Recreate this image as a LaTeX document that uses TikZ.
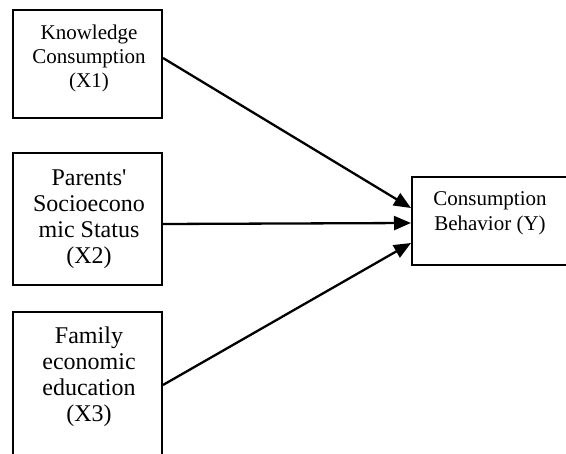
\documentclass[tikz,border=0pt]{standalone}
\usepackage{fontspec}
\setmainfont{Liberation Serif}
\usetikzlibrary{arrows.meta}
\begin{document}
\begin{tikzpicture}[x=1pt,y=-1pt,
  boxshape/.style={draw=black,line width=2pt,rectangle,inner sep=0pt},
  smalltxt/.style={align=center,inner sep=0pt,font=\fontsize{21}{24}\selectfont},
  bigtxt/.style={align=center,inner sep=0pt,font=\fontsize{24}{26}\selectfont},
  link/.style={line width=2.3pt,-{Triangle[length=17pt,width=14pt]}}]
\useasboundingbox (0,0) rectangle (566,454);
\clip (0,0) rectangle (566,454);
\fill[white] (0,0) rectangle (566,454);
% boxes
\node[boxshape,minimum width=149pt,minimum height=108pt] (b1) at (87.5,64) {};
\node[boxshape,minimum width=149pt,minimum height=132pt] (b2) at (87.5,219) {};
\node[boxshape,minimum width=149pt,minimum height=160pt] (b3) at (87.5,392) {};
\node[boxshape,minimum width=156pt,minimum height=88pt] (y) at (490,221) {};
% texts
\node[smalltxt] (t1) at (89,58) {Knowledge\\Consumption\\(X1)};
\node[bigtxt] (t2) at (89,219) {Parents\textquotesingle\\Socioecono\\mic Status\\(X2)};
\node[bigtxt] (t3) at (89,377) {Family\\economic\\education\\(X3)};
\node[smalltxt,font=\fontsize{21}{25}\selectfont] (ty) at (490,213) {Consumption\\Behavior (Y)};
% connectors
\draw[link] ([yshift=6pt]b1.east) -- ([yshift=13pt]y.west);
\draw[link] ([yshift=-5pt]b2.east) -- ([yshift=-2pt]y.west);
\draw[link] ([yshift=7pt]b3.east) -- ([yshift=-22pt]y.west);
\end{tikzpicture}
\end{document}
